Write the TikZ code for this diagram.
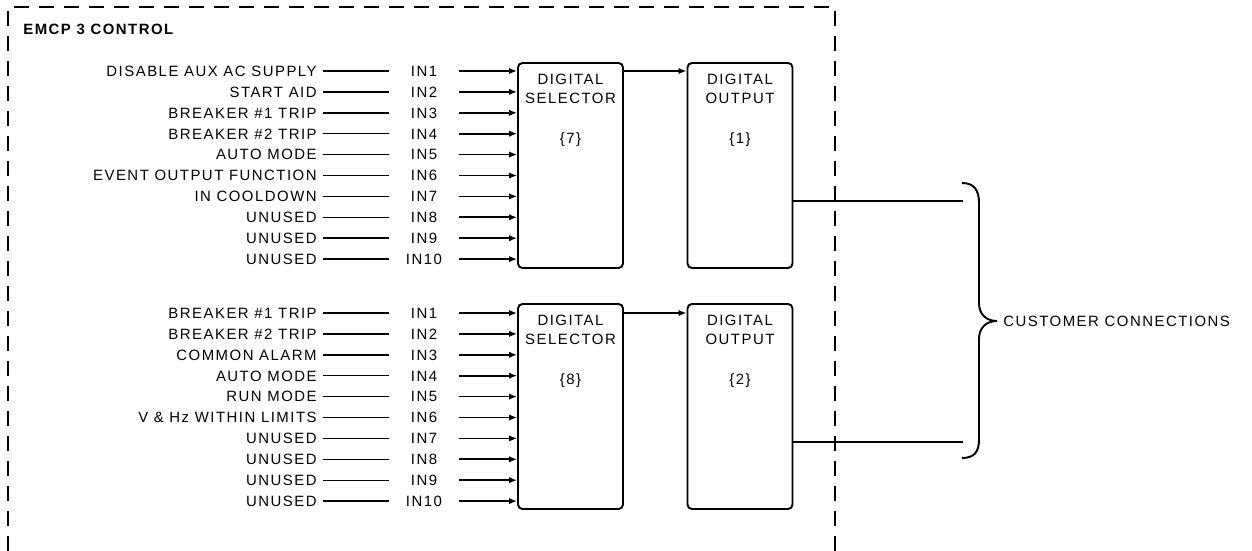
\documentclass[tikz,border=0pt]{standalone}
\usepackage{fontspec}
\newfontfamily\diagfont{Liberation Sans}[LetterSpace=10]
\usetikzlibrary{positioning,arrows.meta,calc}

\begin{document}
\begin{tikzpicture}[
    x=0.02cm, y=-0.02cm,
    node font=\diagfont\fontsize{8.5}{10.6}\selectfont,
    line/.style={draw, line width=0.8pt},
    inarrow/.style={draw, line width=1pt, -{Latex[length=4.5pt,width=3.6pt]}},
    frame/.style={draw, line width=1pt, dash pattern=on 0.3cm off 0.2cm},
    sig/.style={inner sep=0pt, text height=6.1pt, text depth=0pt},
    pin/.style={sig, minimum width=1.4cm},
    blk/.style={draw, line width=1.1pt, rounded corners=2.5pt, minimum width=2.1cm, minimum height=4.1cm, inner sep=0pt},
    blktext/.style={align=center, inner sep=0pt, anchor=base}
]
\useasboundingbox (0,0) rectangle (1252,551);

% control frame, open at the bottom
\draw[frame] (8,551) -- (8,7) -- (835,7) -- (835,551);
\node[sig, anchor=west, font=\bfseries] (title) at (23,29) {EMCP 3 CONTROL};

% upper channel
\node[blk] (sel1) at (570.5,165.5) {};
\node[blk] (out1) at (740,165.5) {};
\node[blktext] (sel1t) at ($(sel1.north)+(0,41)$) {DIGITAL\\SELECTOR};
\node[blktext] (sel1n) at ($(sel1.north)+(0,81)$) {\{7\}};
\node[blktext] (out1t) at ($(out1.north)+(0,41)$) {DIGITAL\\OUTPUT};
\node[blktext] (out1n) at ($(out1.north)+(0,81)$) {\{1\}};

\foreach \lab [count=\k] in {DISABLE AUX AC SUPPLY, START AID, BREAKER \#1 TRIP,
    BREAKER \#2 TRIP, AUTO MODE, EVENT OUTPUT FUNCTION, IN COOLDOWN,
    UNUSED, UNUSED, UNUSED}{
  \node[sig, anchor=east] (a\k) at (317,71+20.9*\k-20.9) {\lab};
  \node[pin] (ain\k) at (424,71+20.9*\k-20.9) {IN\k};
  \draw[line] ([xshift=0.12cm]a\k.east) -- (ain\k.west);
  \draw[inarrow] (ain\k.east) -- (ain\k.east -| sel1.west);
}
\draw[inarrow] (ain1 -| sel1.east) -- (ain1 -| out1.west);

% lower channel
\node[blk] (sel2) at (570.5,406.5) {};
\node[blk] (out2) at (740,406.5) {};
\node[blktext] (sel2t) at ($(sel2.north)+(0,41)$) {DIGITAL\\SELECTOR};
\node[blktext] (sel2n) at ($(sel2.north)+(0,81)$) {\{8\}};
\node[blktext] (out2t) at ($(out2.north)+(0,41)$) {DIGITAL\\OUTPUT};
\node[blktext] (out2n) at ($(out2.north)+(0,81)$) {\{2\}};

\foreach \lab [count=\k] in {BREAKER \#1 TRIP, BREAKER \#2 TRIP, COMMON ALARM,
    AUTO MODE, RUN MODE, V \& Hz WITHIN LIMITS,
    UNUSED, UNUSED, UNUSED, UNUSED}{
  \node[sig, anchor=east] (b\k) at (317,313+20.9*\k-20.9) {\lab};
  \node[pin] (bin\k) at (424,313+20.9*\k-20.9) {IN\k};
  \draw[line] ([xshift=0.12cm]b\k.east) -- (bin\k.west);
  \draw[inarrow] (bin\k.east) -- (bin\k.east -| sel2.west);
}
\draw[inarrow] (bin1 -| sel2.east) -- (bin1 -| out2.west);

% customer side
\coordinate (cc1) at (963,201);
\coordinate (cc2) at (963,442);
\draw[line] (cc1 -| out1.east) -- (cc1);
\draw[line] (cc2 -| out2.east) -- (cc2);
\coordinate (tip) at (997,321);
\draw[line width=1.1pt] (962,183) .. controls (974,183) and (979,190) .. (979,203)
  -- (979,303) .. controls (979,314) and (986,321) .. (tip)
  .. controls (986,321) and (979,328) .. (979,339)
  -- (979,440) .. controls (979,452) and (974,458) .. (962,458);
\node[sig, anchor=west] (cust) at (1003,321) {CUSTOMER CONNECTIONS};

\end{tikzpicture}
\end{document}
